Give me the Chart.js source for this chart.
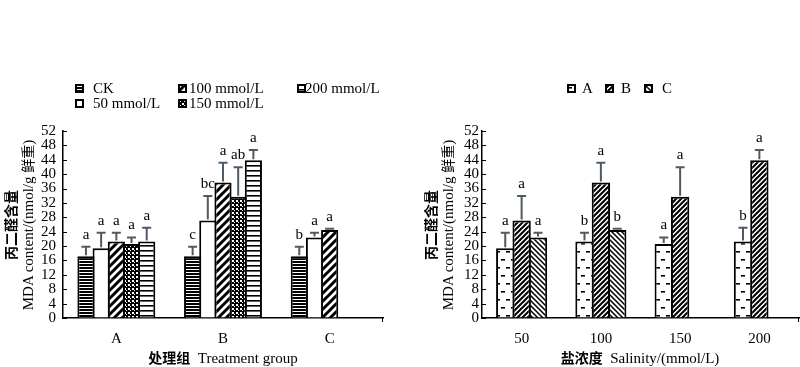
<!DOCTYPE html>
<html>
<head>
<meta charset="utf-8">
<script src="https://cdn.jsdelivr.net/npm/chart.js@4/dist/chart.umd.min.js"></script>
<style>
  html, body { margin:0; padding:0; background:#fff; }
  body { width:800px; height:367px; position:relative; overflow:hidden; }
  .wrap { position:absolute; top:0; width:400px; height:367px; }
  .serif { font-family:'Liberation Serif','Times New Roman',serif; }
  .cjk { font-family:'Noto Sans CJK SC',sans-serif; }
  .leg { position:absolute; font-family:'Liberation Serif',serif; font-size:15px; line-height:15px; color:#000; white-space:nowrap; }
  .sw { position:absolute; }
  .xt { position:absolute; top:348px; height:18px; line-height:18px; white-space:nowrap; text-align:center; color:#000; }
  .yt { position:absolute; width:240px; height:34px; text-align:center; transform:rotate(-90deg); color:#000; white-space:nowrap; }
  .yt div { height:17px; line-height:17px; }
</style>
</head>
<body>
<div class="wrap" style="left:0"><canvas id="c1" width="400" height="367"></canvas></div>
<div class="wrap" style="left:400px"><canvas id="c2" width="400" height="367"></canvas></div>

<!-- axis titles -->
<div class="xt" style="left:123px;width:200px"><span class="cjk" style="font-size:14px;font-weight:700">处理组</span><span class="serif" style="font-size:15px">&nbsp;&nbsp;Treatment group</span></div>
<div class="xt" style="left:540px;width:200px"><span class="cjk" style="font-size:14px;font-weight:700">盐浓度</span><span class="serif" style="font-size:15px">&nbsp;&nbsp;Salinity/(mmol/L)</span></div>
<div class="yt" style="left:-101.5px;top:208px"><div class="cjk" style="font-size:14px;font-weight:700">丙二醛含量</div><div class="serif" style="font-size:15px">MDA content/(nmol/g <span class="cjk" style="font-size:14px">鲜重</span>)</div></div>
<div class="yt" style="left:318.5px;top:208px"><div class="cjk" style="font-size:14px;font-weight:700">丙二醛含量</div><div class="serif" style="font-size:15px">MDA content/(nmol/g <span class="cjk" style="font-size:14px">鲜重</span>)</div></div>

<div id="legends"></div>

<script>
// ---------------- DATA ----------------
// Left chart: treatment groups
const groupLabels = ['A', 'B', 'C'];
const seriesNamesLeft = ['CK', '50 mmol/L', '100 mmol/L', '150 mmol/L', '200 mmol/L'];
const ckValues   = [17.2, 17.2, 17.2];
const ckErrors   = [2.6, 2.6, 2.6];
const ckSig      = ['a', 'c', 'b'];
const s50Values  = [19.4, 27.1, 22.4];
const s50Errors  = [4.3, 6.8, 1.3];
const s50Sig     = ['a', 'bc', 'a'];
const s100Values = [21.3, 37.7, 24.5];
const s100Errors = [2.4, 5.5, 0.3];
const s100Sig    = ['a', 'a', 'a'];
const s150Values = [20.6, 33.7, null];
const s150Errors = [1.8, 8.2, null];
const s150Sig    = ['a', 'ab', null];
const s200Values = [21.3, 43.9, null];
const s200Errors = [3.8, 2.8, null];
const s200Sig    = ['a', 'a', null];

// Right chart: salinity
const salinityLabels = ['50', '100', '150', '200'];
const seriesNamesRight = ['A', 'B', 'C'];
const aValues = [19.4, 21.3, 20.6, 21.3];
const aErrors = [4.3, 2.4, 1.8, 3.8];
const aSig    = ['a', 'b', 'a', 'b'];
const bValues = [27.1, 37.7, 33.7, 43.9];
const bErrors = [6.8, 5.5, 8.2, 2.8];
const bSig    = ['a', 'a', 'a', 'a'];
const cValues = [22.4, 24.5, null, null];
const cErrors = [1.3, 0.3, null, null];
const cSig    = ['a', 'b', null, null];

const yTickMin = 0, yTickMax = 52, yTickStep = 4;

// ---------------- PATTERNS ----------------
const helperCtx = document.createElement('canvas').getContext('2d');
function makePattern(w, h, draw) {
  const c = document.createElement('canvas');
  c.width = w; c.height = h;
  const g = c.getContext('2d');
  g.fillStyle = '#fff'; g.fillRect(0, 0, w, h);
  g.fillStyle = '#000'; g.strokeStyle = '#000';
  draw(g, w, h);
  return helperCtx.createPattern(c, 'repeat');
}
function diag(g, p, lw, forward) {
  g.lineWidth = lw;
  g.beginPath();
  for (let k = -1; k <= 1; k++) {
    if (forward) { g.moveTo(k * p - 1, p + 1); g.lineTo(k * p + p + 1, -1); }
    else { g.moveTo(k * p - 1, -1); g.lineTo(k * p + p + 1, p + 1); }
  }
  g.stroke();
}
const patCK   = makePattern(4, 3, (g, w) => { g.fillRect(0, 0, w, 2); });
const pat50   = '#ffffff';
const pat100  = makePattern(8, 8, (g) => diag(g, 8, 3, true));
const pat150  = makePattern(4, 4, (g) => { g.fillRect(0, 0, 4, 4); g.fillStyle = '#fff'; g.fillRect(0, 0, 2, 2); g.fillRect(2, 2, 1, 1); });
const pat200  = makePattern(4, 5, (g, w) => { g.fillRect(0, 0, w, 1.6); });
const patA    = makePattern(10, 16, (g) => { g.fillRect(1, 3, 4, 1.6); g.fillRect(6, 11, 4, 1.6); });
const patB    = makePattern(5, 5, (g) => diag(g, 5, 2, true));
const patC    = makePattern(5, 5, (g) => diag(g, 5, 1.5, false));

const leftFills  = [patCK, pat50, pat100, pat150, pat200];
const rightFills = [patA, patB, patC];

// ---------------- PLUGINS ----------------
const serifFamily = "'Liberation Serif','Times New Roman',serif";
const errPlugin = {
  id: 'errs',
  afterDatasetsDraw(chart) {
    const ctx = chart.ctx, ys = chart.scales.y;
    chart.data.datasets.forEach((ds, i) => {
      const meta = chart.getDatasetMeta(i);
      meta.data.forEach((el, j) => {
        const v = ds.data[j];
        if (v == null) return;
        const top = ys.getPixelForValue(v + ds.errors[j]);
        ctx.save();
        ctx.strokeStyle = '#4f5a64';
        ctx.lineWidth = 2;
        ctx.beginPath();
        ctx.moveTo(el.x, el.y - 1);
        ctx.lineTo(el.x, top);
        ctx.moveTo(el.x - 4.5, top);
        ctx.lineTo(el.x + 4.5, top);
        ctx.stroke();
        ctx.fillStyle = '#000';
        ctx.font = '15px ' + serifFamily;
        ctx.textAlign = 'center';
        ctx.textBaseline = 'alphabetic';
        ctx.fillText(ds.sig[j], el.x, top - 8);
        ctx.restore();
      });
    });
  },
  afterDraw(chart) {
    const ctx = chart.ctx, ys = chart.scales.y, ca = chart.chartArea;
    ctx.save();
    ctx.strokeStyle = '#000';
    ctx.lineWidth = 1;
    ctx.beginPath();
    ys.ticks.forEach(t => {
      const y = Math.round(ys.getPixelForValue(t.value)) + 0.5;
      ctx.moveTo(ca.left, y);
      ctx.lineTo(ca.left + 4, y);
    });
    ctx.moveTo(ca.right - 0.5, ca.bottom);
    ctx.lineTo(ca.right - 0.5, ca.bottom + 4);
    ctx.stroke();
    ctx.restore();
  }
};

function makeOptions(yWidth, yPad, padRight, catPct, barPct) {
  return {
    responsive: false,
    animation: false,
    devicePixelRatio: 1,
    layout: { padding: { top: 131, right: padRight, left: 0, bottom: 0 } },
    datasets: { bar: { categoryPercentage: catPct, barPercentage: barPct } },
    plugins: { legend: { display: false }, tooltip: { enabled: false } },
    scales: {
      x: {
        grid: { display: true, drawOnChartArea: false, drawTicks: false },
        border: { display: true, color: '#000', width: 1.5 },
        ticks: { color: '#000', font: { family: serifFamily, size: 15 }, padding: 12 },
        afterFit: s => { s.height = 49; }
      },
      y: {
        min: yTickMin, max: yTickMax,
        grid: { display: true, drawOnChartArea: false, drawTicks: false },
        border: { display: true, color: '#000', width: 1.5 },
        ticks: { stepSize: yTickStep, color: '#000', font: { family: serifFamily, size: 15 }, padding: yPad, autoSkip: false },
        afterFit: s => { s.width = yWidth; }
      }
    }
  };
}

function ds(label, data, errors, sig, fill) {
  return { label, data, errors, sig, backgroundColor: fill, borderColor: '#000', borderWidth: 2, borderSkipped: 'bottom' };
}

new Chart(document.getElementById('c1'), {
  type: 'bar',
  data: {
    labels: groupLabels,
    datasets: [
      ds(seriesNamesLeft[0], ckValues, ckErrors, ckSig, leftFills[0]),
      ds(seriesNamesLeft[1], s50Values, s50Errors, s50Sig, leftFills[1]),
      ds(seriesNamesLeft[2], s100Values, s100Errors, s100Sig, leftFills[2]),
      ds(seriesNamesLeft[3], s150Values, s150Errors, s150Sig, leftFills[3]),
      ds(seriesNamesLeft[4], s200Values, s200Errors, s200Sig, leftFills[4])
    ]
  },
  options: makeOptions(63, 7, 17, 0.712, 1.13),
  plugins: [errPlugin]
});

new Chart(document.getElementById('c2'), {
  type: 'bar',
  data: {
    labels: salinityLabels,
    datasets: [
      ds(seriesNamesRight[0], aValues, aErrors, aSig, rightFills[0]),
      ds(seriesNamesRight[1], bValues, bErrors, bSig, rightFills[1]),
      ds(seriesNamesRight[2], cValues, cErrors, cSig, rightFills[2])
    ]
  },
  options: makeOptions(82, 3, 1, 0.62, 1.12),
  plugins: [errPlugin]
});

// ---------------- LEGENDS (HTML) ----------------
const legendHost = document.getElementById('legends');
function addLegend(name, fill, boxX, boxY, textX) {
  const c = document.createElement('canvas');
  c.width = 9; c.height = 9;
  c.className = 'sw';
  c.style.left = boxX + 'px'; c.style.top = boxY + 'px';
  const g = c.getContext('2d');
  g.fillStyle = '#fff'; g.fillRect(0, 0, 9, 9);
  g.fillStyle = fill; g.fillRect(0, 0, 9, 9);
  g.strokeStyle = '#000'; g.lineWidth = 2; g.strokeRect(1, 1, 7, 7);
  legendHost.appendChild(c);
  const t = document.createElement('div');
  t.className = 'leg';
  t.textContent = name;
  t.style.left = textX + 'px';
  t.style.top = (boxY - 3) + 'px';
  legendHost.appendChild(t);
}
// left legend, column-major layout: CK / 50 ; 100 / 150 ; 200
const leftLegendPos = [[75, 84, 93], [75, 99, 93], [178, 84, 189], [178, 99, 189], [297, 84, 305]];
seriesNamesLeft.forEach((n, i) => addLegend(n, leftFills[i], leftLegendPos[i][0], leftLegendPos[i][1], leftLegendPos[i][2]));
const rightLegendPos = [[567, 84, 582], [605, 84, 621], [644, 84, 662]];
seriesNamesRight.forEach((n, i) => addLegend(n, rightFills[i], rightLegendPos[i][0], rightLegendPos[i][1], rightLegendPos[i][2]));
</script>
</body>
</html>
